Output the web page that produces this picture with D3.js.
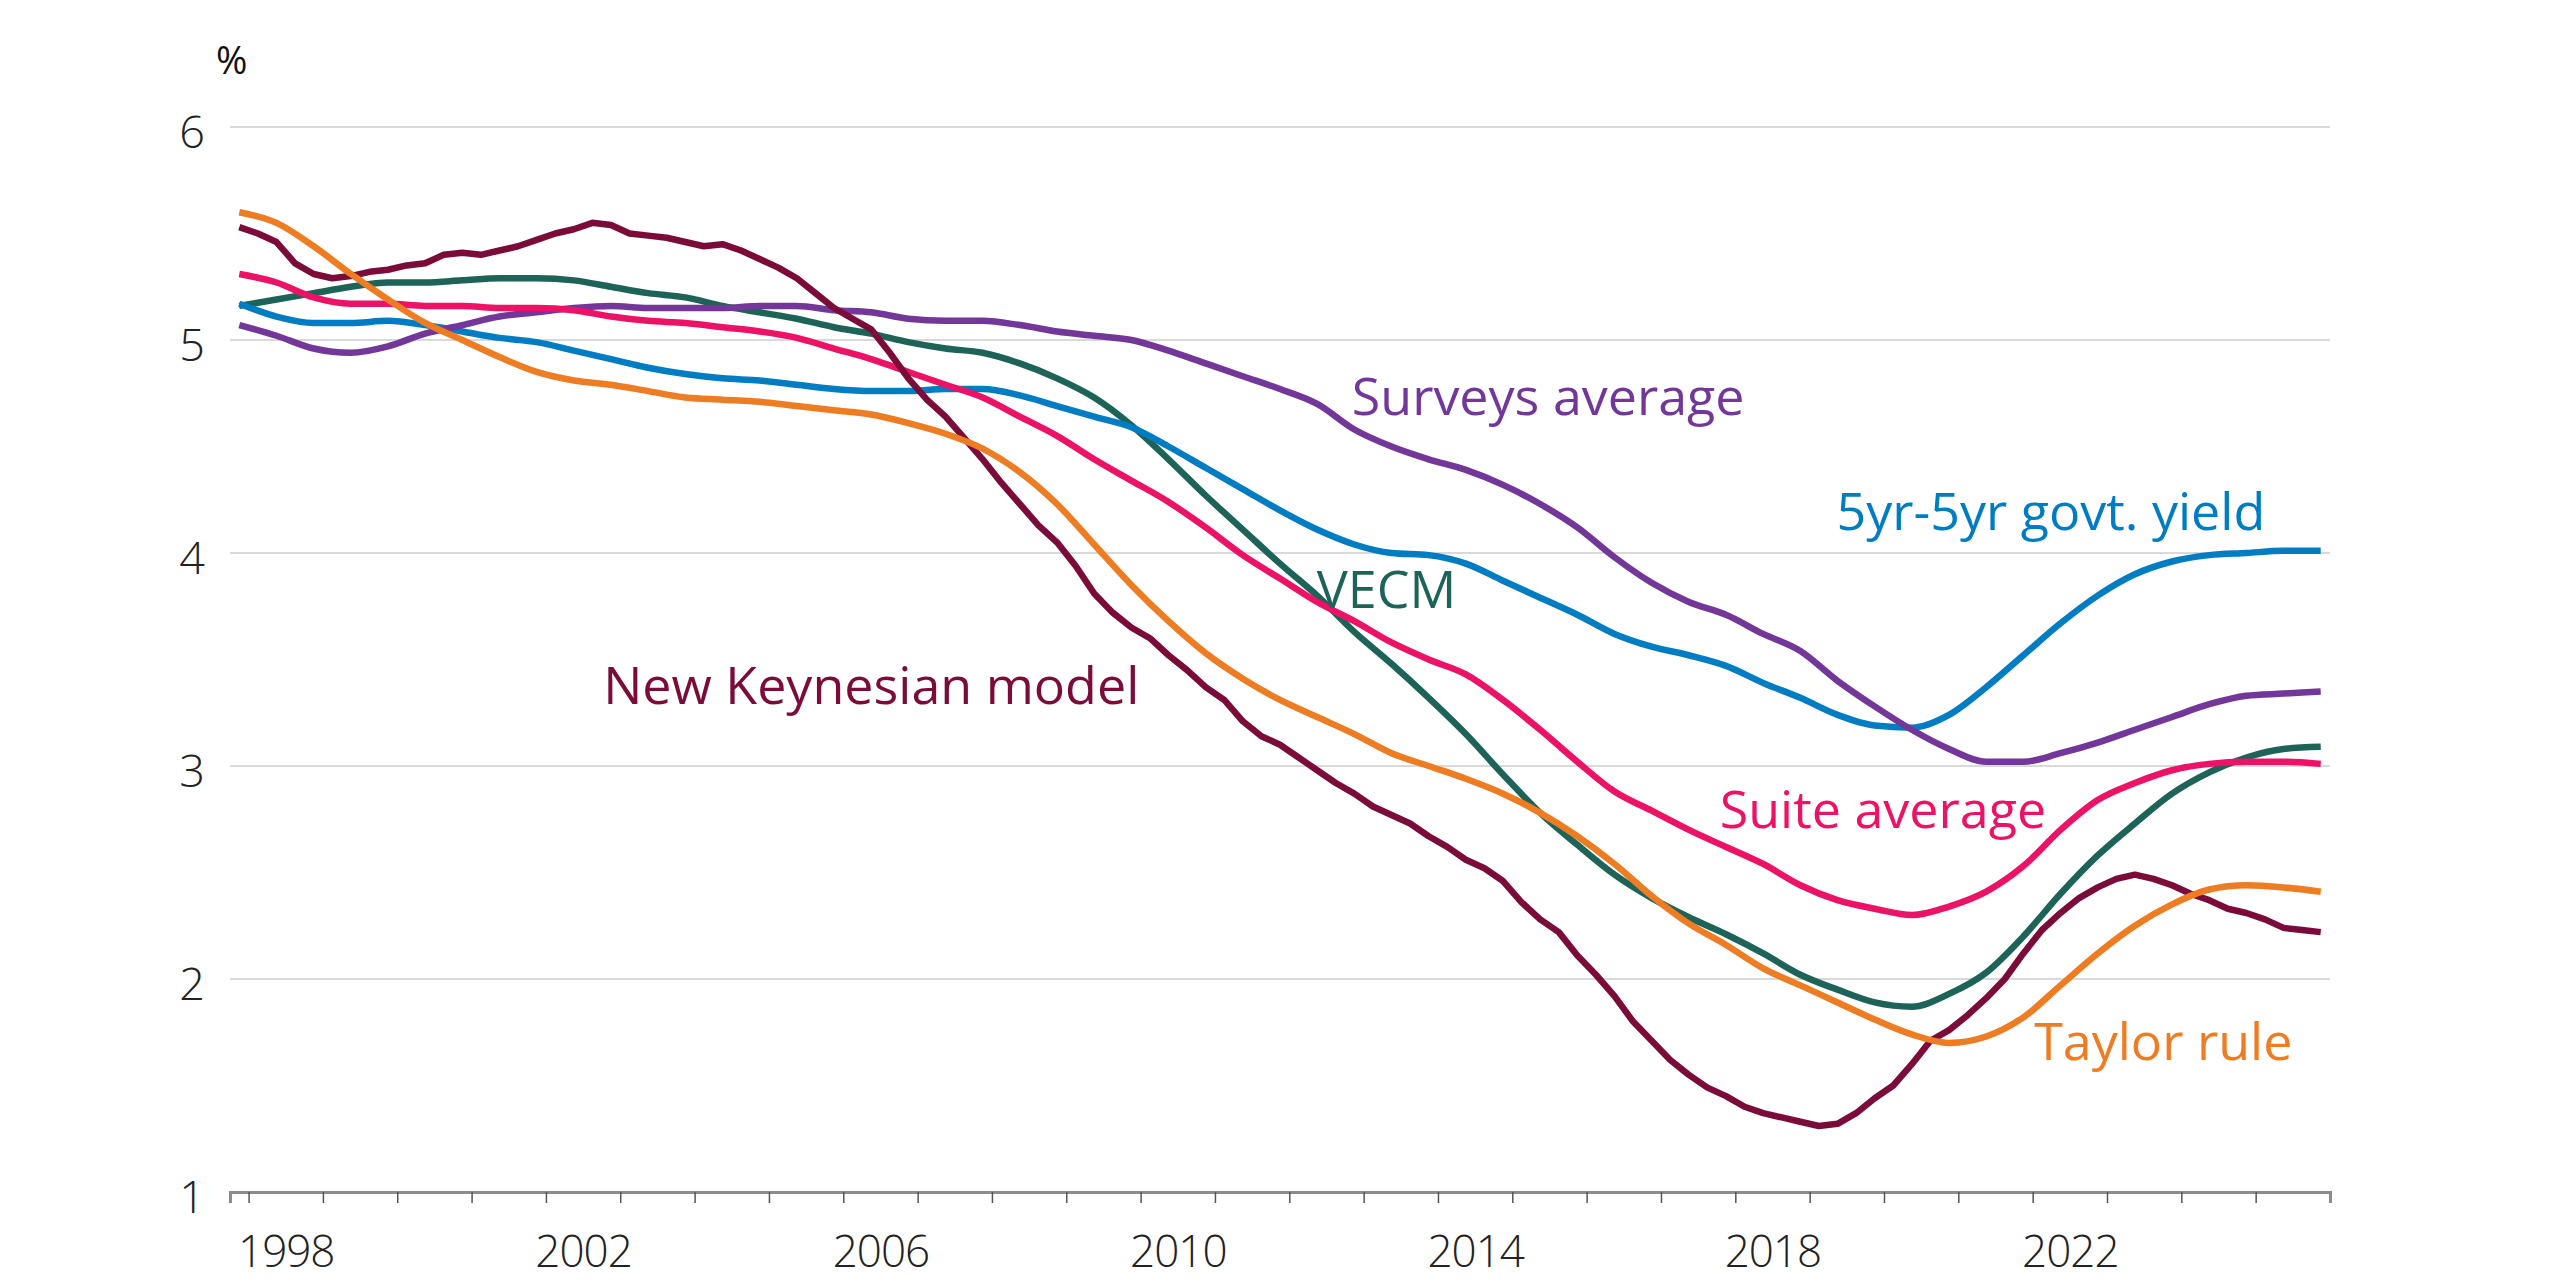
<!DOCTYPE html>
<html>
<head>
<meta charset="utf-8">
<script src="https://cdn.jsdelivr.net/npm/d3@7"></script>
<style>
  body { margin: 0; background: #fff; }
  text { font-family: "Open Sans", sans-serif; }
</style>
</head>
<body>
<svg id="chart"></svg>
<script>
// quarterly data, first point is 1997 Q4 (plotted mid-quarter)
var firstQuarter = 1997.875;

// New Keynesian model, every quarter
var newKeynesian = [
  5.53, 5.50, 5.46, 5.36, 5.31, 5.29, 5.30, 5.32, 5.33, 5.35, 5.36, 5.40, 5.41, 5.40,
  5.42, 5.44, 5.47, 5.50, 5.52, 5.55, 5.54, 5.50, 5.49, 5.48, 5.46, 5.44, 5.45, 5.42,
  5.38, 5.34, 5.29, 5.22, 5.15, 5.10, 5.05, 4.94, 4.82, 4.72, 4.64, 4.54, 4.44, 4.33,
  4.23, 4.13, 4.05, 3.94, 3.81, 3.72, 3.65, 3.60, 3.52, 3.45, 3.37, 3.31, 3.21, 3.14,
  3.10, 3.04, 2.98, 2.92, 2.87, 2.81, 2.77, 2.73, 2.67, 2.62, 2.56, 2.52, 2.46, 2.36,
  2.28, 2.22, 2.11, 2.02, 1.92, 1.80, 1.71, 1.62, 1.55, 1.49, 1.45, 1.40, 1.37, 1.35,
  1.33, 1.31, 1.32, 1.37, 1.44, 1.50, 1.60, 1.71, 1.76, 1.83, 1.91, 2.00, 2.12, 2.23,
  2.31, 2.38, 2.43, 2.47, 2.49, 2.47, 2.44, 2.40, 2.37, 2.33, 2.31, 2.28, 2.24, 2.23, 2.22
];

// the smoother series, read every second quarter (1997 Q4, 1998 Q2, ...)
var taylorRule = [
  5.60, 5.55, 5.44, 5.31, 5.19, 5.08, 5.00, 4.92, 4.85, 4.81, 4.79, 4.76, 4.73, 4.72,
  4.71, 4.69, 4.67, 4.65, 4.61, 4.56, 4.49, 4.38, 4.23, 4.04, 3.85, 3.68, 3.53, 3.41,
  3.31, 3.23, 3.15, 3.06, 3.00, 2.94, 2.87, 2.78, 2.67, 2.54, 2.39, 2.26, 2.16, 2.05,
  1.97, 1.89, 1.81, 1.74, 1.70, 1.73, 1.82, 1.97, 2.12, 2.25, 2.35, 2.42, 2.44, 2.43, 2.41
];
var suiteAverage = [
  5.31, 5.27, 5.20, 5.17, 5.17, 5.16, 5.16, 5.15, 5.15, 5.14, 5.11, 5.09, 5.08, 5.06,
  5.04, 5.01, 4.96, 4.91, 4.85, 4.79, 4.73, 4.64, 4.55, 4.44, 4.34, 4.24, 4.12, 3.99,
  3.88, 3.77, 3.68, 3.58, 3.50, 3.43, 3.31, 3.17, 3.02, 2.88, 2.79, 2.70, 2.62, 2.54,
  2.44, 2.37, 2.33, 2.30, 2.34, 2.41, 2.53, 2.70, 2.84, 2.92, 2.98, 3.01, 3.02, 3.02, 3.01
];
var govtYield = [
  5.17, 5.11, 5.08, 5.08, 5.09, 5.07, 5.04, 5.01, 4.99, 4.95, 4.91, 4.87, 4.84, 4.82,
  4.81, 4.79, 4.77, 4.76, 4.76, 4.77, 4.77, 4.74, 4.69, 4.64, 4.59, 4.50, 4.40, 4.30,
  4.20, 4.11, 4.04, 4.00, 3.99, 3.95, 3.87, 3.79, 3.71, 3.62, 3.56, 3.52, 3.47, 3.39,
  3.32, 3.24, 3.19, 3.18, 3.24, 3.37, 3.52, 3.67, 3.80, 3.90, 3.96, 3.99, 4.00, 4.01, 4.01
];
var vecm = [
  5.16, 5.19, 5.22, 5.25, 5.27, 5.27, 5.28, 5.29, 5.29, 5.28, 5.25, 5.22, 5.20, 5.16,
  5.13, 5.10, 5.06, 5.03, 4.99, 4.96, 4.94, 4.89, 4.82, 4.73, 4.60, 4.44, 4.27, 4.11,
  3.95, 3.80, 3.63, 3.48, 3.32, 3.15, 2.96, 2.78, 2.63, 2.49, 2.38, 2.29, 2.21, 2.12,
  2.02, 1.95, 1.89, 1.87, 1.93, 2.03, 2.20, 2.40, 2.58, 2.73, 2.87, 2.97, 3.04, 3.08, 3.09
];
var surveysAverage = [
  5.07, 5.02, 4.96, 4.94, 4.97, 5.03, 5.07, 5.11, 5.13, 5.15, 5.16, 5.15, 5.15, 5.15,
  5.16, 5.16, 5.14, 5.13, 5.10, 5.09, 5.09, 5.07, 5.04, 5.02, 5.00, 4.95, 4.89, 4.83,
  4.77, 4.70, 4.58, 4.50, 4.44, 4.39, 4.32, 4.23, 4.12, 3.98, 3.86, 3.77, 3.71, 3.62,
  3.54, 3.40, 3.28, 3.17, 3.08, 3.02, 3.02, 3.06, 3.11, 3.17, 3.23, 3.29, 3.33, 3.34, 3.35
];

var yTicks = [1, 2, 3, 4, 5, 6];
var yearTicks = d3.range(1998, 2026);
var yearLabels = ['1998', '2002', '2006', '2010', '2014', '2018', '2022'];

// name, values, quarters between points, colour, label anchor (year, %)
var series = [
  { name: 'VECM', values: vecm, step: 2, color: '#1d6358', lx: 2012.37, ly: 3.74 },
  { name: '5yr-5yr govt. yield', values: govtYield, step: 2, color: '#007cc3', lx: 2019.36, ly: 4.11 },
  { name: 'Surveys average', values: surveysAverage, step: 2, color: '#733799', lx: 2012.84, ly: 4.65 },
  { name: 'Suite average', values: suiteAverage, step: 2, color: '#ec1265', lx: 2017.79, ly: 2.71 },
  { name: 'New Keynesian model', values: newKeynesian, step: 1, color: '#7b0c3a', lx: 2002.77, ly: 3.29 },
  { name: 'Taylor rule', values: taylorRule, step: 2, color: '#ee7c22', lx: 2022.02, ly: 1.62 }
];

var margin = { top: 127, right: 230, bottom: 88, left: 230 },
  width = 2560 - margin.left - margin.right,
  height = 1280 - margin.top - margin.bottom;

var svg = d3.select('#chart')
  .attr('width', 2560)
  .attr('height', 1280)
  .append('g')
  .attr('transform', 'translate(' + margin.left + ',' + margin.top + ')');

var x = d3.scaleLinear().domain([1997.75, 2026]).range([0, width]);
var y = d3.scaleLinear().domain([1, 6]).range([height, 0]);

// gridlines
svg.append('g')
  .selectAll('line')
  .data(yTicks.filter(function (d) { return d > 1; }))
  .enter()
  .append('line')
  .attr('x1', 0)
  .attr('x2', width)
  .attr('y1', function (d) { return y(d); })
  .attr('y2', function (d) { return y(d); })
  .attr('stroke', '#d9d9d9')
  .attr('stroke-width', 2);

// y labels
var yAxis = svg.append('g')
  .call(d3.axisLeft(y).tickValues(yTicks).tickSize(0).tickPadding(25).tickFormat(d3.format('d')));
yAxis.select('.domain').remove();
yAxis.selectAll('text')
  .attr('dy', '0.46em')
  .style('font-size', '45px')
  .style('font-weight', 300)
  .attr('fill', '#222');

// x axis: a tick every year, labels every fourth year centred on the year
var xAxis = svg.append('g')
  .attr('transform', 'translate(0,' + height + ')')
  .call(d3.axisBottom(x).tickValues(yearTicks).tickSize(11).tickFormat(''));
xAxis.select('.domain').attr('stroke', '#8c8c8c').attr('stroke-width', 3);
xAxis.selectAll('.tick line').attr('stroke', '#555').attr('stroke-width', 1.5);

var xLabels = svg.append('g')
  .attr('transform', 'translate(0,' + height + ')')
  .call(d3.axisBottom(x)
    .tickValues(yearLabels.map(function (d) { return +d + 0.5; }))
    .tickSize(0)
    .tickFormat(function (d) { return String(Math.floor(d)); }));
xLabels.select('.domain').remove();
xLabels.selectAll('text')
  .attr('y', 0)
  .attr('dy', 75)
  .style('font-size', '44px')
  .style('font-weight', 300)
  .style('letter-spacing', '-1px')
  .attr('fill', '#222');

// unit
svg.append('text')
  .attr('x', -14)
  .attr('y', -53)
  .style('font-size', '38px')
  .attr('fill', '#111')
  .text('%');

var line = d3.line()
  .x(function (d) { return x(d.t); })
  .y(function (d) { return y(d.v); });

series.forEach(function (s) {
  var pts = s.values.map(function (v, i) {
    return { t: firstQuarter + i * s.step * 0.25, v: v };
  });
  svg.append('path')
    .datum(pts)
    .attr('fill', 'none')
    .attr('stroke', s.color)
    .attr('stroke-width', 6.5)
    .attr('stroke-linejoin', 'round')
    .attr('d', line.curve(s.step === 1 ? d3.curveLinear : d3.curveMonotoneX));
});

svg.selectAll('.series-label')
  .data(series)
  .enter()
  .append('text')
  .attr('class', 'series-label')
  .attr('x', function (d) { return x(d.lx); })
  .attr('y', function (d) { return y(d.ly); })
  .attr('fill', function (d) { return d.color; })
  .style('font-size', '52px')
  .text(function (d) { return d.name; });
</script>
</body>
</html>
